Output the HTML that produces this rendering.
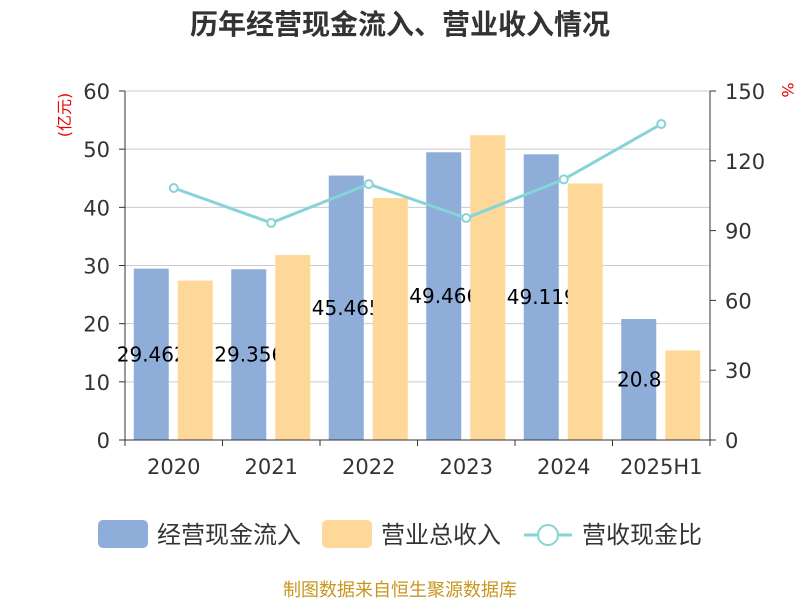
<!DOCTYPE html>
<html><head><meta charset="utf-8"><style>
body{margin:0;background:#fff;font-family:"DejaVu Sans","Noto Sans CJK SC",sans-serif}
svg text{font-family:"DejaVu Sans","Noto Sans CJK SC",sans-serif}
</style></head><body>
<svg id="c" width="800" height="600">
<text x="400" y="34" text-anchor="middle" font-size="28" font-weight="bold" fill="#333">历年经营现金流入、营业收入情况</text>
<g id="grid"></g><g id="bars"></g><g id="axes"></g>
<g>
<rect x="98" y="520" width="50" height="28" rx="5" fill="#8eadd9"/>
<text x="157" y="543" font-size="24" fill="#333">经营现金流入</text>
<rect x="322" y="520" width="50" height="28" rx="5" fill="#fdd898"/>
<text x="381" y="543" font-size="24" fill="#333">营业总收入</text>
<line x1="524" y1="535" x2="572" y2="535" stroke="#86d4d8" stroke-width="3"/>
<circle cx="548" cy="535" r="10" fill="#fff" stroke="#86d4d8" stroke-width="2"/>
<text x="582" y="543" font-size="24" fill="#333">营收现金比</text>
</g>
<text x="400" y="596" text-anchor="middle" font-size="18" fill="#c8961e">制图数据来自恒生聚源数据库</text>
</svg>
<script>
const categories=["2020","2021","2022","2023","2024","2025H1"];
const cashIn=[29.462,29.356,45.465,49.466,49.119,20.8];
const cashLabels=["29.462","29.356","45.465","49.466","49.119","20.8"];
const revenue=[27.4,31.8,41.6,52.4,44.1,15.4];
const ratio=[108.3,93.3,110,95.4,112,135.8];
const leftTicks=[0,10,20,30,40,50,60];
const rightTicks=[0,30,60,90,120,150];
const NS="http://www.w3.org/2000/svg";
const X0=125,X1=710,Y0=440,Y1=91;
const yL=v=>Y0-(v/60)*(Y0-Y1);
const yR=v=>Y0-(v/150)*(Y0-Y1);
const bw=(X1-X0)/categories.length;
const xc=i=>X0+bw*(i+0.5);
function mk(tag,attrs,parent,txt){const e=document.createElementNS(NS,tag);for(const k in attrs)e.setAttribute(k,attrs[k]);if(txt!=null)e.textContent=txt;document.getElementById(parent).appendChild(e);return e;}
leftTicks.forEach(t=>{
 const y=yL(t);
 if(t>0){const g=mk("line",{x1:X0,x2:X1,y1:y,y2:y,stroke:"#ccc","stroke-width":1},"grid");
 
 }
 const l=mk("text",{x:X0-15,y:y+8,"text-anchor":"end","font-size":21,fill:"#333"},"axes",t);
 
 
 mk("line",{x1:X0-6,x2:X0,y1:y,y2:y,stroke:"#333"},"axes");
});
rightTicks.forEach(t=>{
 const y=yR(t);
 const l=mk("text",{x:X1+15,y:y+8,"font-size":21,fill:"#333"},"axes",t);
 
 
 mk("line",{x1:X1,x2:X1+6,y1:y,y2:y,stroke:"#333"},"axes");
});
mk("line",{x1:X0,x2:X0,y1:Y1,y2:Y0,stroke:"#333"},"axes");
mk("line",{x1:X1,x2:X1,y1:Y1,y2:Y0,stroke:"#333"},"axes");
mk("line",{x1:X0,x2:X1,y1:Y0,y2:Y0,stroke:"#333"},"axes");
const ul=mk("text",{x:70,y:115,"font-size":16,fill:"#e00",transform:"rotate(-90 70 115)","text-anchor":"middle"},"axes","(亿元)");


const ur=mk("text",{x:782,y:90,"font-size":16,fill:"#e00",transform:"rotate(90 782 90)","text-anchor":"middle"},"axes","%");


categories.forEach((c,i)=>{
 const x0=X0+bw*i;
 mk("line",{x1:x0+bw,x2:x0+bw,y1:Y0,y2:Y0+6,stroke:"#333"},"axes");
 if(i==0)mk("line",{x1:x0,x2:x0,y1:Y0,y2:Y0+6,stroke:"#333"},"axes");
 const t=mk("text",{x:xc(i),y:474,"text-anchor":"middle","font-size":21,fill:"#333"},"axes",c);
 
 
 const b=mk("rect",{x:xc(i)-40,y:yL(cashIn[i]),width:35,height:Y0-yL(cashIn[i]),fill:"#8eadd9"},"bars");
 
 
 const lb=mk("text",{x:xc(i)-22,y:(yL(cashIn[i])+Y0)/2+7,"text-anchor":"middle","font-size":20,fill:"#000"},"bars",cashLabels[i]);
 
 
});
categories.forEach((c,i)=>{
 const b=mk("rect",{x:xc(i)+4,y:yL(revenue[i]),width:35,height:Y0-yL(revenue[i]),fill:"#fdd898"},"bars");
 
 
});
const pts=ratio.map((v,i)=>xc(i)+","+yR(v)).join(" ");
const pl=mk("polyline",{points:pts,fill:"none",stroke:"#86d4d8","stroke-width":3},"bars");


ratio.forEach((v,i)=>{
 const p=mk("circle",{cx:xc(i),cy:yR(v),r:4,fill:"#fff",stroke:"#86d4d8","stroke-width":2},"bars");
 
 
});
</script>
</body></html>
